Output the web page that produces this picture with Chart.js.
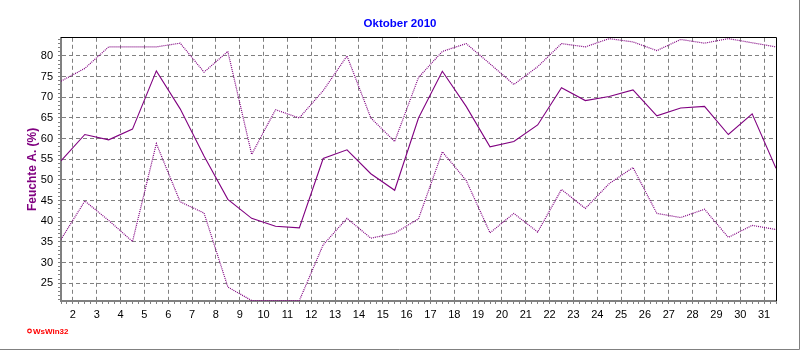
<!DOCTYPE html>
<html><head><meta charset="utf-8">
<script src="https://cdn.jsdelivr.net/npm/chart.js@4/dist/chart.umd.min.js"></script>
<style>html,body{margin:0;padding:0;background:#fff}canvas{display:block}</style>
</head><body>
<canvas id="c" width="800" height="350"></canvas>
<script>
// Days of October 2010 (each value plotted in the middle of its day)
const days = [1,2,3,4,5,6,7,8,9,10,11,12,13,14,15,16,17,18,19,20,21,22,23,24,25,26,27,28,29,30,31];
// Humidity (%) – daily mean, max, min
const meanHum = [54.6,61.0,59.7,62.3,76.4,67.2,55.8,45.3,40.7,38.8,38.4,55.2,57.3,51.5,47.5,65.0,76.3,67.8,58.0,59.3,63.3,72.3,69.2,70.2,71.8,65.5,67.4,67.8,61.0,66.0,52.8];
const maxHum  = [73.9,77.0,82.2,82.2,82.2,83.1,76.1,81.1,56.2,67.0,65.0,71.6,80.0,65.0,59.3,74.8,81.1,83.0,78.1,73.1,77.4,83.0,82.2,84.2,83.4,81.3,84.0,83.1,84.2,83.2,82.2];
const minHum  = [35.6,44.9,40.2,35.1,58.8,44.7,42.0,24.1,20.8,20.8,20.8,34.3,40.7,35.9,37.1,40.6,56.8,49.9,37.2,41.9,37.4,47.7,43.1,49.1,53.0,41.9,40.9,42.9,36.1,39.0,38.0];
// Tick labels
const xTickLabels = ['2','3','4','5','6','7','8','9','10','11','12','13','14','15','16','17','18','19','20','21','22','23','24','25','26','27','28','29','30','31'];
const yTickLabels = ['25','30','35','40','45','50','55','60','65','70','75','80'];
const titleText = 'Oktober 2010';
const yAxisTitle = 'Feuchte A. (%)';

const xMin = 1.5, xMax = 31.5, yMin = 20.7, yMax = 84.4;
const xLabelAt = new Map(xTickLabels.map(l => [Number(l), l]));
const yLabelAt = new Map(yTickLabels.map(l => [Number(l), l]));
const xTickValues = []; for (let v = xMin; v <= xMax + 1e-9; v += 0.25) xTickValues.push(Math.round(v*100)/100);
const yTickValues = []; for (let v = Math.ceil(yMin); v <= yMax; v++) yTickValues.push(v);

const PURPLE = '#800080', GRID = '#808080';
const FONT = 'Liberation Sans, Arial, sans-serif';
const pts = arr => days.map((d, i) => ({x: d + 0.5, y: arr[i]}));

const framePlugin = {
  id: 'frame',
  afterDraw(chart) {
    const {ctx, chartArea: a} = chart;
    ctx.save();
    ctx.strokeStyle = '#000'; ctx.lineWidth = 1;
    ctx.beginPath();
    ctx.moveTo(a.left, Math.floor(a.top) + 0.5); ctx.lineTo(Math.round(a.right) + 0.5, Math.floor(a.top) + 0.5);
    ctx.lineTo(Math.round(a.right) + 0.5, a.bottom);
    ctx.stroke();
    // outer image border
    ctx.strokeStyle = GRID;
    ctx.beginPath();
    ctx.moveTo(799.5, 0); ctx.lineTo(799.5, 349.5); ctx.lineTo(0, 349.5);
    ctx.stroke();
    // WsWin32 mark
    ctx.strokeStyle = '#ff0000'; ctx.lineWidth = 1.2;
    ctx.beginPath(); ctx.arc(29.5, 331, 1.8, 0, Math.PI*2); ctx.stroke();
    ctx.fillStyle = '#ff0000';
    ctx.font = 'bold 8px ' + FONT; ctx.textBaseline = 'middle'; ctx.textAlign = 'left';
    ctx.fillText('WsWin32', 33, 331.5);
    ctx.restore();
  }
};

new Chart(document.getElementById('c'), {
  type: 'line',
  data: {
    datasets: [
      {label: 'Max', data: pts(maxHum), borderColor: PURPLE, borderWidth: 1.2, borderDash: [1,1], pointRadius: 0, tension: 0, fill: false},
      {label: 'Min', data: pts(minHum), borderColor: PURPLE, borderWidth: 1.2, borderDash: [1,1], pointRadius: 0, tension: 0, fill: false},
      {label: 'Mittel', data: pts(meanHum), borderColor: PURPLE, borderWidth: 1.1, pointRadius: 0, tension: 0, fill: false}
    ]
  },
  options: {
    responsive: false, animation: false, devicePixelRatio: 1,
    layout: {padding: 0},
    plugins: {
      legend: {display: false}, tooltip: {enabled: false},
      title: {display: true, text: titleText, color: '#0000ff', font: {family: FONT, size: 11.5, weight: 'bold'}, padding: {top: 17, bottom: 7}}
    },
    scales: {
      x: {
        type: 'linear', min: xMin, max: xMax,
        afterBuildTicks: s => { s.ticks = xTickValues.map(v => ({value: v})); },
        afterFit: s => { s.height = 49; },
        ticks: {autoSkip: false, maxRotation: 0, color: '#000', padding: 4, font: {family: FONT, size: 11},
          callback: v => xLabelAt.get(v) || ''},
        grid: {color: c => (c.tick && xLabelAt.has(c.tick.value)) ? GRID : 'rgba(0,0,0,0)', tickColor: GRID, tickLength: 3, lineWidth: 1},
        border: {display: true, color: GRID, width: 2, dash: [4,3]}
      },
      y: {
        min: yMin, max: yMax,
        afterBuildTicks: s => { s.ticks = yTickValues.map(v => ({value: v})); },
        afterFit: s => { s.width = 61; },
        ticks: {autoSkip: false, color: '#000', padding: 5, font: {family: FONT, size: 11},
          callback: v => yLabelAt.get(v) || ''},
        grid: {color: c => (c.tick && yLabelAt.has(c.tick.value)) ? GRID : 'rgba(0,0,0,0)', tickColor: GRID, tickLength: 3, lineWidth: 1},
        border: {display: true, color: GRID, width: 2, dash: [4,3]},
        title: {display: true, text: yAxisTitle, color: PURPLE, font: {family: FONT, size: 12, weight: 'bold'}, padding: {top: 25, bottom: 0}}
      },
      yRight: {
        position: 'right', min: yMin, max: yMax,
        afterFit: s => { s.width = 24; },
        ticks: {display: false}, grid: {display: false}, border: {display: false}
      }
    }
  },
  plugins: [framePlugin]
});
</script>
</body></html>
